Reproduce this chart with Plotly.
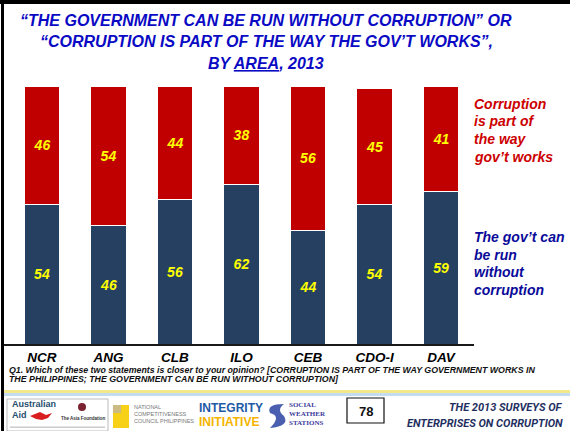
import plotly.graph_objects as go

W, H = 570, 431

areas = ["NCR", "ANG", "CLB", "ILO", "CEB", "CDO-I", "DAV"]
can_be_run = [54, 46, 56, 62, 44, 54, 59]
part_of_way = [46, 54, 44, 38, 56, 45, 41]

title_lines = [
    "“THE GOVERNMENT CAN BE RUN WITHOUT CORRUPTION” OR",
    "“CORRUPTION IS PART OF THE WAY THE GOV’T WORKS”,",
    "BY <u>AREA</u>, 2013",
]
red_label = ["Corruption", "is part of", "the way", "gov’t works"]
blue_label = ["The gov’t can", "be run", "without", "corruption"]
note_lines = [
    "Q1. Which of these two statements is closer to your opinion? [CORRUPTION IS PART OF THE WAY GOVERNMENT WORKS IN",
    "THE PHILIPPINES; THE GOVERNMENT CAN BE RUN WITHOUT CORRUPTION]",
]

NAVY = "#264061"
RED = "#C00000"
FONT = "Arial, Liberation Sans, sans-serif"


def px(x):
    return x / W


def py(y):
    return 1 - y / H


lbl_font = dict(family=FONT, size=14, color="#FFFF00", weight="bold", style="italic")

fig = go.Figure()
fig.add_bar(
    x=areas, y=can_be_run, name="The gov’t can be run without corruption",
    marker=dict(color=NAVY, line=dict(color="white", width=1)),
    width=0.54, text=can_be_run, textposition="inside", insidetextanchor="middle",
    textangle=0, constraintext="none", textfont=lbl_font,
)
fig.add_bar(
    x=areas, y=part_of_way, name="Corruption is part of the way gov’t works",
    marker=dict(color=RED, line=dict(color="white", width=1)),
    width=0.54, text=part_of_way, textposition="inside", insidetextanchor="middle",
    textangle=0, constraintext="none", textfont=lbl_font,
)

ann = []
# title
for i, t in enumerate(title_lines):
    ann.append(dict(xref="paper", yref="paper", x=px(266), y=py(20 + 21.5 * i),
                    text=t, showarrow=False, xanchor="center", yanchor="middle",
                    font=dict(family=FONT, size=16, color="#0A0AC4", weight="bold", style="italic")))
# side labels
for i, t in enumerate(red_label):
    ann.append(dict(xref="paper", yref="paper", x=px(472), y=py(104 + 17.5 * i),
                    text=t, showarrow=False, xanchor="left", yanchor="middle",
                    font=dict(family=FONT, size=14, color="#CC0000", weight="bold", style="italic")))
for i, t in enumerate(blue_label):
    ann.append(dict(xref="paper", yref="paper", x=px(472), y=py(237 + 17.5 * i),
                    text=t, showarrow=False, xanchor="left", yanchor="middle",
                    font=dict(family=FONT, size=14, color="#0A0A9A", weight="bold", style="italic")))
# note
for i, t in enumerate(note_lines):
    ann.append(dict(xref="paper", yref="paper", x=px(7), y=py(369.5 + 9.5 * i),
                    text=t, showarrow=False, xanchor="left", yanchor="middle",
                    font=dict(family=FONT, size=8.8, color="#111111", weight="bold", style="italic")))

# footer texts
ann += [
    dict(xref="paper", yref="paper", x=px(10), y=py(404), text="Australian", showarrow=False,
         xanchor="left", yanchor="middle", font=dict(family=FONT, size=9, color="#1F4E6E", weight="bold")),
    dict(xref="paper", yref="paper", x=px(10), y=py(415), text="Aid", showarrow=False,
         xanchor="left", yanchor="middle", font=dict(family=FONT, size=9, color="#1F4E6E", weight="bold")),
    dict(xref="paper", yref="paper", x=px(84), y=py(418), text="The Asia Foundation", showarrow=False,
         xanchor="center", yanchor="middle", font=dict(family=FONT, size=4.5, color="#333333", weight="bold")),
    dict(xref="paper", yref="paper", x=px(132), y=py(414), showarrow=False,
         text="NATIONAL<br>COMPETITIVENESS<br>COUNCIL PHILIPPINES", align="left",
         xanchor="left", yanchor="middle", font=dict(family=FONT, size=5.5, color="#777777")),
    dict(xref="paper", yref="paper", x=px(197), y=py(408), text="INTEGRITY", showarrow=False,
         xanchor="left", yanchor="middle", font=dict(family=FONT, size=12, color="#1F5AA6", weight="bold")),
    dict(xref="paper", yref="paper", x=px(197), y=py(422), text="INITIATIVE", showarrow=False,
         xanchor="left", yanchor="middle", font=dict(family=FONT, size=12, color="#F5B400", weight="bold")),
    dict(xref="paper", yref="paper", x=px(287), y=py(414), showarrow=False,
         text="SOCIAL<br>WEATHER<br>STATIONS", align="left",
         xanchor="left", yanchor="middle",
         font=dict(family="Liberation Serif, serif", size=7, color="#3B3B9B", weight="bold")),
    dict(xref="paper", yref="paper", x=px(365.5), y=py(411), text="78", showarrow=False,
         xanchor="center", yanchor="middle", font=dict(family=FONT, size=13, color="#111111", weight="bold")),
    dict(xref="paper", yref="paper", x=px(565), y=py(407), text="THE 2013 SURVEYS OF", showarrow=False,
         xanchor="right", yanchor="middle",
         font=dict(family="Roboto, sans-serif", size=11, color="#1F2F5F", weight="bold", style="italic")),
    dict(xref="paper", yref="paper", x=px(565), y=py(423), text="ENTERPRISES ON CORRUPTION", showarrow=False,
         xanchor="right", yanchor="middle",
         font=dict(family="Roboto, sans-serif", size=11, color="#1F2F5F", weight="bold", style="italic")),
]

shapes = [
    # slide border
    dict(type="rect", xref="paper", yref="paper", x0=0, x1=1, y0=py(4), y1=1,
         fillcolor="#000000", line=dict(width=0)),
    dict(type="rect", xref="paper", yref="paper", x0=px(1), x1=px(4), y0=0, y1=1,
         fillcolor="#000000", line=dict(width=0)),
    # gradient separator
    dict(type="rect", xref="paper", yref="paper", x0=px(4), x1=1, y0=py(393), y1=py(390),
         fillcolor="#F4E98A", line=dict(width=0)),
    dict(type="rect", xref="paper", yref="paper", x0=px(4), x1=1, y0=py(396), y1=py(393),
         fillcolor="#C4DCF2", line=dict(width=0)),
    # Australian Aid box
    dict(type="rect", xref="paper", yref="paper", x0=px(7), x1=px(108), y0=py(431), y1=py(399),
         fillcolor="#FFFFFF", line=dict(color="#BBBBBB", width=1)),
    dict(type="circle", xref="paper", yref="paper", x0=px(78), x1=px(86), y0=py(411), y1=py(403),
         fillcolor="#7A2230", line=dict(width=0)),
    dict(type="path", xref="paper", yref="paper",
         path=f"M {px(30)},{py(416)} L {px(40)},{py(412)} L {px(46)},{py(415)} L {px(52)},{py(413)} "
              f"L {px(48)},{py(418)} L {px(42)},{py(420)} L {px(36)},{py(419)} Z",
         fillcolor="#D81E1E", line=dict(width=0)),
    dict(type="rect", xref="paper", yref="paper", x0=px(10), x1=px(105), y0=py(428), y1=py(426.5),
         fillcolor="#CCCCCC", line=dict(width=0)),
    # NCC square
    dict(type="rect", xref="paper", yref="paper", x0=px(113), x1=px(129), y0=py(428), y1=py(405),
         fillcolor="#F7D117", line=dict(width=0)),
    dict(type="rect", xref="paper", yref="paper", x0=px(113), x1=px(121), y0=py(413), y1=py(405),
         fillcolor="#CDBB84", line=dict(width=0)),
    # SWS logo swoosh
    dict(type="path", xref="paper", yref="paper",
         path=f"M {px(284)},{py(404)} Q {px(266)},{py(404)} {px(270)},{py(413)} "
              f"Q {px(282)},{py(416)} {px(270)},{py(428)} Q {px(290)},{py(426)} {px(284)},{py(416)} "
              f"Q {px(276)},{py(410)} {px(284)},{py(404)} Z",
         fillcolor="#4A5FB0", line=dict(width=0)),
    # page number box
    dict(type="rect", xref="paper", yref="paper", x0=px(347), x1=px(384), y0=py(423), y1=py(398),
         fillcolor="#FFFFFF", line=dict(color="#111111", width=1.2)),
]

fig.update_layout(
    width=W, height=H, margin=dict(l=0, r=0, t=0, b=0),
    paper_bgcolor="white", plot_bgcolor="white",
    barmode="stack", bargap=0.46, showlegend=False,
    annotations=ann, shapes=shapes,
    xaxis=dict(domain=[px(3), px(474)], range=[-0.586, 6.496], showgrid=False, zeroline=False,
               showline=True, linecolor="#1A1A1A", linewidth=2, ticks="",
               tickfont=dict(family=FONT, size=13.5, color="#000000", weight="bold", style="italic"),
               ticklabelstandoff=0, fixedrange=True),
    yaxis=dict(domain=[py(344), py(86)], range=[0, 100], visible=False, fixedrange=True),
)

fig.write_html(
    "out.html",
    config={"displayModeBar": False},
    post_script="document.body.style.margin='0';document.body.style.padding='0';"
                "document.documentElement.style.overflow='hidden';",
)
